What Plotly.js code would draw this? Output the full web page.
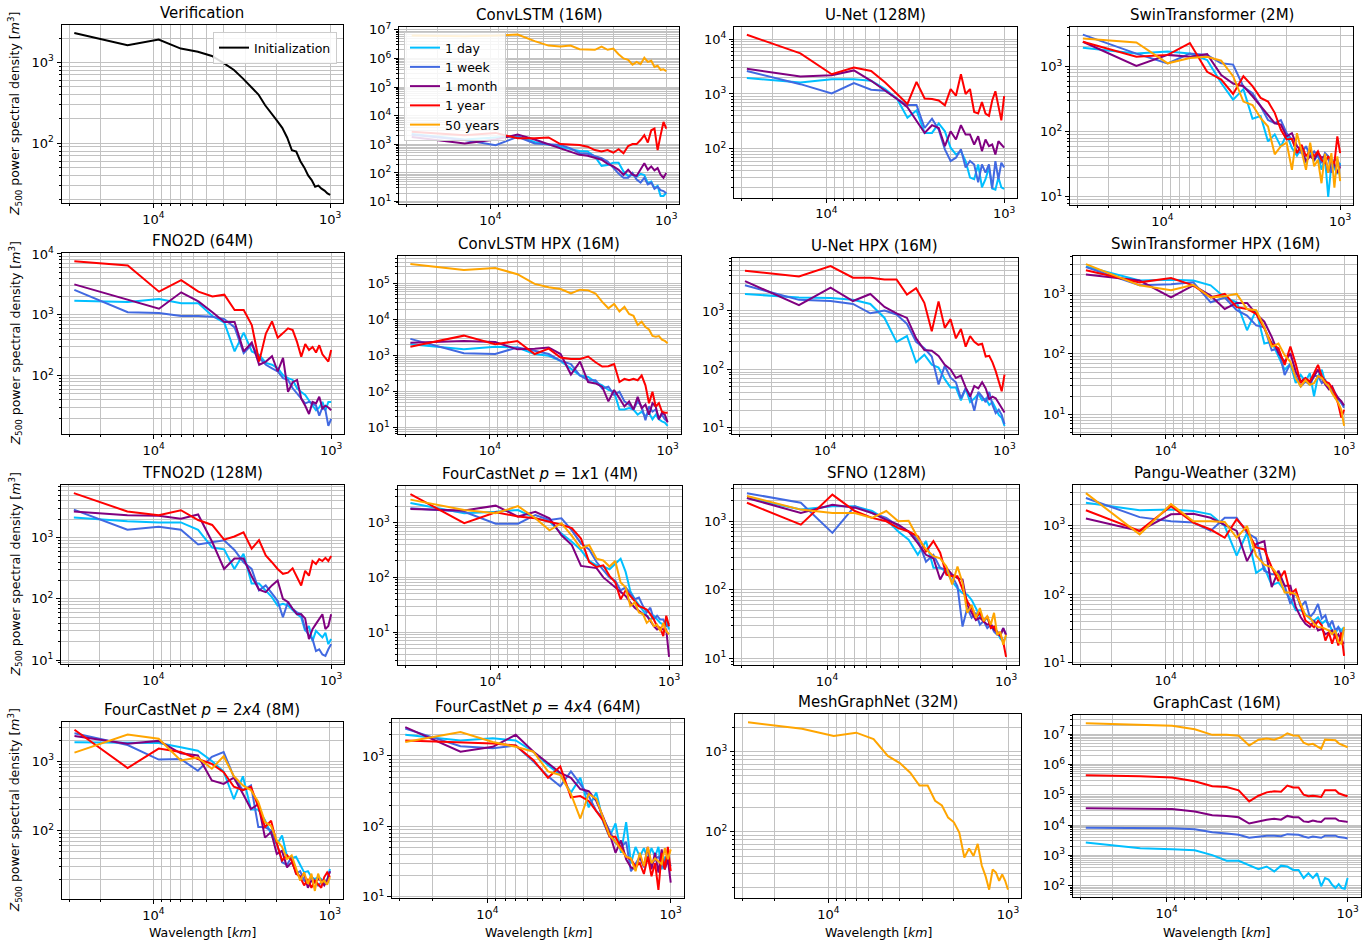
<!DOCTYPE html>
<html>
<head>
<meta charset="utf-8">
<script src="https://cdn.plot.ly/plotly-3.0.1.min.js"></script>
<style>html,body{margin:0;padding:0;background:#fff;}#chart{width:1371px;height:946px;}</style>
</head>
<body>
<div id="chart"></div>
<script>
// ---------------- DATA ----------------
const wavelength_km = [28000, 14000, 9333, 7000, 5600, 4667, 4000, 3500, 3111, 2800, 2545, 2333, 2154, 2000, 1867, 1750, 1647, 1556, 1474, 1400, 1333, 1273, 1217, 1167, 1120, 1077, 1037, 1000];
const seriesNames = ['1 day', '1 week', '1 month', '1 year', '50 years'];
const panelTitles = ['Verification', 'ConvLSTM (16M)', 'U-Net (128M)', 'SwinTransformer (2M)',
  'FNO2D (64M)', 'ConvLSTM HPX (16M)', 'U-Net HPX (16M)', 'SwinTransformer HPX (16M)',
  'TFNO2D (128M)', 'FourCastNet <i>p</i> = 1<i>x</i>1 (4M)', 'SFNO (128M)', 'Pangu-Weather (32M)',
  'FourCastNet <i>p</i> = 2<i>x</i>4 (8M)', 'FourCastNet <i>p</i> = 4<i>x</i>4 (64M)', 'MeshGraphNet (32M)', 'GraphCast (16M)'];
const xTickVals = [1000, 10000];
const xTickText = ['10<sup>3</sup>', '10<sup>4</sup>'];

const verification_init = [2300, 1630, 1910, 1480, 1350, 1200, 980, 805, 630, 500, 400, 295, 238, 190, 155, 117, 82, 79, 60, 50, 40, 35, 29, 30, 27.5, 26, 24, 23];

const convlstm_1day = [2290, 1480, 1740, 1910, 1200, 1000, 830, 680, 590, 560, 370, 178, 191, 229, 229, 112, 79, 85, 74, 93, 85, 44, 50, 29.5, 35.5, 15.8, 15.8, 20.4];
const convlstm_1week = [2140, 1410, 930, 1820, 1070, 1020, 955, 720, 490, 470, 400, 330, 250, 148, 95, 68, 68, 100, 59, 46, 68, 40, 46, 28, 33, 25, 23.4, 19.5];
const convlstm_1month = [1820, 1070, 1480, 2190, 1480, 1000, 720, 560, 430, 400, 330, 290, 209, 170, 129, 87, 129, 87, 79, 129, 219, 129, 170, 123, 148, 87, 68, 100];
const convlstm_1year = [2750, 2090, 2510, 1620, 1620, 1740, 1020, 955, 955, 830, 630, 560, 630, 510, 680, 490, 870, 1020, 1020, 1410, 2090, 1150, 3090, 3550, 630, 2090, 6030, 3550];
const convlstm_50years = [6.3e6, 6.0e6, 6.3e6, 6.8e6, 4.0e6, 2.8e6, 2.6e6, 2.8e6, 2.1e6, 2.1e6, 2.0e6, 2.6e6, 2.0e6, 2.2e6, 1.4e6, 1.0e6, 8.9e5, 6.0e5, 7.6e5, 6.3e5, 1.05e6, 7.6e5, 8.3e5, 5.0e5, 5.6e5, 4.0e5, 4.2e5, 3.55e5];

const unet_1day = [1950, 1620, 1860, 1860, 1740, 1230, 810, 370, 500, 195, 195, 290, 209, 105, 79, 91, 60, 30, 28, 52, 20, 28, 46, 19, 18, 30, 20, 18.6];
const unet_1week = [2630, 1510, 1020, 1580, 1200, 1150, 810, 630, 630, 240, 355, 224, 98, 60, 69, 98, 46, 60, 52, 24.5, 52, 37, 52, 19, 60, 28, 56, 46];
const unet_1month = [2880, 2090, 2190, 2690, 1740, 1150, 810, 575, 330, 195, 270, 240, 112, 209, 148, 270, 182, 182, 120, 170, 91, 148, 112, 120, 79, 138, 120, 105];
const unet_1year = [12000, 5500, 2290, 3020, 2630, 1620, 1000, 660, 1660, 830, 810, 760, 620, 1230, 930, 2290, 1000, 1230, 470, 440, 710, 440, 400, 760, 1120, 560, 330, 910];

const swin_1day = [1950, 1580, 1700, 1580, 1260, 560, 310, 450, 158, 174, 71, 91, 59, 91, 56, 43, 56, 33, 50, 35.5, 45, 26, 40, 10, 32, 28, 22.4, 33];
const swin_1week = [3090, 1580, 1120, 1580, 1510, 1120, 1070, 490, 390, 245, 151, 135, 151, 95, 76, 50, 47, 60, 42, 50, 42, 33, 47, 42, 23.4, 37, 37, 29.5];
const swin_1month = [2400, 1020, 1510, 1410, 1550, 740, 550, 500, 350, 245, 182, 135, 129, 85, 95, 60, 50, 35.5, 42, 37, 47, 40, 42, 23.4, 37, 32, 23.4, 29.5];
const swin_1year = [2400, 1410, 1510, 2290, 830, 630, 380, 710, 500, 330, 290, 195, 107, 76, 78, 47, 63, 42, 52, 42, 50, 37, 33, 42, 35.5, 33, 85, 47];
const swin_50years = [2690, 2340, 1120, 1350, 1410, 1230, 710, 290, 257, 162, 120, 45, 60, 68, 26, 95, 50, 26, 68, 29.5, 37, 16.2, 46, 23.4, 47, 13.8, 42, 17.4];

const fno_1day = [1700, 1620, 1820, 1550, 1550, 955, 740, 250, 510, 250, 219, 162, 151, 132, 102, 91, 85, 62, 54, 48, 39, 32, 27, 30, 37, 27, 37, 37];
const fno_1week = [2570, 1100, 1070, 955, 955, 930, 850, 620, 234, 324, 195, 151, 132, 117, 91, 85, 62, 51, 42, 35, 37, 35, 32, 22, 30, 27, 15, 19.5];
const fno_1month = [3160, 1740, 1260, 2340, 1660, 1100, 760, 760, 250, 350, 151, 170, 209, 117, 195, 54, 78, 85, 42, 32, 23.4, 37, 35, 45, 29, 32, 30, 27];
const fno_1year = [7590, 6460, 2400, 3720, 2400, 2000, 2140, 1200, 1200, 680, 170, 490, 780, 420, 500, 600, 560, 355, 204, 330, 263, 295, 240, 316, 224, 191, 170, 263];

const convhpx_1day = [2090, 1510, 1780, 1700, 1120, 1000, 720, 440, 282, 257, 186, 151, 112, 100, 32, 32, 35, 32, 23, 28, 21, 26, 17, 23, 17, 15, 13.8, 11.2];
const convhpx_1week = [2950, 1170, 1120, 1700, 1380, 1120, 720, 590, 282, 209, 209, 123, 138, 81, 100, 54, 44, 32, 54, 39, 16, 39, 28, 32, 18.6, 23, 17, 15];
const convhpx_1month = [2290, 2570, 2400, 1510, 1580, 1700, 1120, 302, 690, 186, 170, 138, 54, 112, 66, 39, 54, 32, 72, 35, 44, 23, 48, 39, 17, 26, 23, 14];
const convhpx_1year = [1780, 3630, 2090, 2570, 1120, 1580, 890, 810, 810, 955, 660, 500, 510, 590, 186, 229, 209, 229, 209, 282, 151, 48, 100, 39, 48, 28, 26, 26];
const convhpx_50years = [3.55e5, 2.45e5, 2.75e5, 1.86e5, 1.0e5, 8.1e4, 7.2e4, 5.4e4, 6.9e4, 6.6e4, 5.4e4, 3.16e4, 2.09e4, 2.75e4, 1.7e4, 2.29e4, 1.45e4, 1.29e4, 7.2e3, 8.9e3, 6.3e3, 5.4e3, 3.55e3, 3.4e3, 3.55e3, 2.8e3, 2.6e3, 2.24e3];

const unethpx_1day = [1950, 1700, 1660, 1550, 1320, 759, 295, 372, 132, 178, 120, 107, 68, 49, 49, 29.5, 47, 27.5, 31.6, 38, 29.5, 31.6, 24.5, 27.5, 21.4, 16.6, 14.8, 10.7];
const unethpx_1week = [2750, 1550, 1480, 1320, 912, 1020, 871, 603, 295, 229, 166, 55, 115, 72, 60, 32, 47, 36, 19.5, 41, 34, 27.5, 41, 24.5, 17.8, 20.4, 16.6, 11.5];
const unethpx_1month = [3240, 1260, 2510, 1480, 1950, 1170, 912, 759, 339, 214, 209, 170, 120, 100, 71, 78, 49, 34, 52, 47, 60, 47, 31, 34, 32, 26, 21, 18.2];
const unethpx_1year = [4900, 3890, 5890, 3720, 3720, 3470, 3470, 1910, 2450, 1380, 447, 1450, 513, 724, 339, 490, 245, 372, 295, 263, 275, 166, 170, 132, 93, 60, 42, 81];

const swinhpx_1day = [2750, 1620, 1660, 1620, 1350, 851, 708, 245, 525, 148, 158, 89, 55, 69, 33, 45, 35, 48, 20, 43, 55, 33, 27.5, 26, 18.6, 17.8, 15.5, 13.8];
const swinhpx_1week = [2690, 1350, 1410, 1510, 708, 851, 525, 427, 295, 275, 115, 123, 45, 69, 43, 29, 35, 31, 43, 43, 33, 37, 27.5, 24, 20, 18.6, 15.5, 12.9];
const swinhpx_1month = [2040, 1620, 851, 1350, 912, 550, 692, 692, 457, 339, 191, 102, 74, 102, 51, 35, 40, 33, 43, 55, 40, 31, 26, 29, 22.4, 18.6, 16.6, 14.1];
const swinhpx_1year = [2400, 1510, 1780, 1350, 851, 977, 589, 550, 457, 263, 148, 123, 66, 132, 69, 33, 40, 35, 48, 66, 43, 35, 33, 27.5, 21.4, 14.5, 8.9, 12];
const swinhpx_50years = [3020, 1350, 1120, 1380, 851, 891, 977, 550, 525, 275, 132, 148, 95, 74, 40, 29, 37, 31, 33, 43, 40, 33, 29, 22.4, 18.6, 15.5, 12, 6.5];

const tfno_1day = [2140, 1860, 1780, 1780, 1350, 692, 646, 309, 550, 178, 178, 138, 107, 78, 83, 78, 65, 56, 50, 30, 36, 20.4, 30, 26, 23.4, 28, 18.2, 22];
const tfno_1week = [2880, 1350, 1510, 1350, 776, 851, 912, 631, 398, 309, 138, 166, 120, 93, 50, 89, 69, 60, 56, 32, 25, 22, 14, 15, 12.3, 11.7, 15, 18.2];
const tfno_1month = [2690, 2340, 2290, 2040, 2400, 851, 309, 457, 457, 234, 141, 129, 166, 200, 100, 89, 69, 56, 56, 48, 22, 32, 39, 47, 56, 32, 36, 56];
const tfno_1year = [5370, 2690, 2340, 2820, 1950, 1620, 933, 1050, 1230, 661, 912, 513, 398, 309, 257, 269, 316, 224, 166, 288, 240, 417, 372, 447, 417, 468, 417, 501];

const fcn11_1day = [2290, 1480, 1580, 1700, 1200, 1050, 631, 447, 316, 200, 166, 158, 141, 178, 219, 126, 56, 40, 32, 25, 20, 17, 20, 17, 14.8, 13.8, 15.8, 11.2];
const fcn11_1week = [1820, 1580, 955, 955, 1380, 1120, 1200, 724, 417, 324, 191, 135, 100, 87, 58, 66, 50, 40, 43, 30, 23, 28, 17, 20, 17, 17, 12.9, 14.8];
const fcn11_1month = [1780, 1660, 2040, 1290, 1580, 1200, 589, 389, 162, 155, 148, 100, 81, 66, 54, 46, 35, 28, 24.5, 21.4, 20, 15.8, 12.9, 11.2, 12, 11.2, 11.2, 3.55];
const fcn11_1year = [3310, 977, 1550, 1290, 1200, 1050, 912, 794, 513, 191, 155, 166, 107, 81, 40, 58, 46, 37, 30, 28, 26, 21.4, 17, 12.9, 12, 8.5, 20, 12.9];
const fcn11_50years = [2630, 1700, 1480, 2000, 1200, 724, 977, 575, 339, 389, 219, 204, 158, 200, 81, 66, 30, 35, 23, 21.4, 14.8, 17, 12.9, 13.8, 10.5, 14.8, 10.5, 9.1];

const sfno_1day = [2190, 1480, 1660, 1660, 1410, 1050, 708, 537, 324, 513, 209, 209, 186, 132, 105, 89, 85, 71, 54, 41, 35, 39, 29, 26, 24.5, 19.5, 17.4, 21];
const sfno_1week = [2570, 1860, 676, 1660, 1320, 1120, 851, 708, 537, 257, 324, 209, 195, 158, 112, 29, 54, 39, 46, 31, 35, 27.5, 31, 24.5, 22, 22, 27.5, 22];
const sfno_1month = [2190, 1320, 1740, 1580, 1320, 1050, 891, 708, 479, 324, 288, 141, 209, 166, 148, 141, 60, 46, 36, 39, 35, 31, 32, 26, 24.5, 21, 27.5, 22];
const sfno_1year = [1860, 891, 2450, 1410, 1120, 1000, 794, 708, 603, 363, 513, 347, 166, 158, 158, 105, 68, 54, 39, 46, 35, 41, 27.5, 29, 23.4, 22, 17.4, 10.5];
const sfno_50years = [2340, 1480, 1320, 1320, 1120, 1410, 1000, 1020, 575, 389, 309, 288, 219, 120, 219, 126, 46, 60, 39, 54, 35, 41, 31, 46, 22, 24.5, 15.8, 22];

const pangu_1day = [2140, 1660, 1700, 1620, 1450, 977, 363, 776, 204, 245, 135, 148, 112, 85, 58, 58, 51, 44, 41, 46, 37, 41, 37, 29.5, 26, 33, 29.5, 33];
const pangu_1week = [2510, 1320, 1150, 1100, 832, 1290, 1290, 776, 646, 219, 195, 195, 132, 72, 105, 65, 79, 46, 54, 72, 44, 49, 33, 41, 29.5, 33, 26, 31];
const pangu_1month = [1260, 832, 1450, 1480, 1290, 1020, 832, 302, 537, 589, 126, 219, 132, 132, 65, 46, 37, 33, 41, 29.5, 31, 26, 27.5, 29.5, 23.4, 26, 21, 19];
const pangu_1year = [1660, 832, 1910, 1100, 871, 661, 1230, 832, 479, 447, 245, 155, 219, 100, 117, 65, 41, 37, 33, 41, 35, 21, 27.5, 19, 26, 17.8, 27.5, 12.6];
const pangu_50years = [2950, 741, 2040, 1150, 1150, 1120, 661, 977, 363, 269, 245, 186, 105, 105, 100, 72, 49, 46, 37, 33, 33, 31.6, 29.5, 26, 29.5, 20, 19, 33];

const fcn24_1day = [1860, 1820, 1820, 1580, 1410, 1000, 708, 282, 603, 200, 200, 141, 89, 63, 85, 42, 40, 42, 32, 25, 26, 21.4, 20, 21.4, 20, 17.8, 19, 28];
const fcn24_1week = [2510, 1700, 1050, 1070, 724, 1150, 1350, 589, 380, 447, 112, 112, 100, 65, 35, 32, 42, 24, 26, 19, 17.8, 21.4, 19, 16.2, 17.8, 19, 19, 26];
const fcn24_1month = [2290, 1780, 1950, 1290, 1200, 525, 468, 575, 339, 204, 240, 79, 95, 46, 51, 29.5, 35, 26, 21.4, 24, 15, 19, 17.8, 20, 19, 16.2, 19, 26];
const fcn24_1year = [2820, 794, 1510, 1350, 1070, 912, 692, 427, 380, 427, 219, 112, 138, 65, 37, 44, 37, 24, 21.4, 16.2, 20, 15, 19, 17, 15, 21.4, 25, 21.4];
const fcn24_50years = [1320, 2400, 2090, 1020, 1120, 776, 1170, 603, 447, 380, 257, 132, 117, 72, 58, 39, 44, 29.5, 19, 25, 17, 24, 13.5, 24, 17.8, 19, 16.6, 21.4];

const fcn44_1day = [2000, 1660, 1780, 1660, 1150, 741, 537, 302, 490, 186, 302, 115, 71, 110, 42, 115, 30, 51, 37, 49, 34, 49, 37, 51, 24.5, 37, 30, 30];
const fcn44_1week = [2450, 1380, 1290, 1410, 832, 513, 372, 603, 398, 269, 166, 129, 87, 58, 51, 60, 23, 30, 37, 26, 37, 29, 34, 37, 29, 24.5, 37, 27];
const fcn44_1month = [2570, 1150, 1350, 2000, 1150, 794, 575, 490, 339, 316, 229, 135, 79, 42, 63, 34, 26, 24.5, 37, 27, 51, 24.5, 42, 22, 47, 24.5, 34, 15.8];
const fcn44_1year = [1660, 1580, 1510, 1410, 871, 490, 708, 257, 269, 229, 166, 120, 71, 71, 49, 37, 34, 27, 30, 21, 37, 19.5, 30, 12.5, 42, 24.5, 51, 23];
const fcn44_50years = [1580, 2190, 1580, 1350, 1150, 603, 537, 288, 129, 288, 245, 135, 74, 60, 47, 37, 35, 23, 42, 27, 51, 30, 35, 32, 29, 49, 34, 47];

const mesh_50years = [2340, 1950, 1580, 1740, 1450, 891, 724, 550, 380, 380, 245, 214, 151, 132, 98, 48, 62, 50, 71, 38, 28, 19, 34, 31, 24.5, 29.5, 24.5, 19];

const graphcast_1day = [2630, 1700, 1580, 1480, 1020, 660, 660, 479, 347, 427, 295, 457, 427, 331, 331, 178, 257, 178, 257, 95, 178, 158, 107, 83, 112, 83, 79, 178];
const graphcast_1week = [8100, 7900, 7800, 7200, 5750, 5250, 4800, 3800, 4200, 4450, 4450, 4250, 5000, 4800, 4800, 4200, 3800, 4200, 4000, 3800, 4450, 4450, 4250, 4450, 4000, 4000, 3800, 3600];
const graphcast_1month = [3.6e4, 3.55e4, 3.4e4, 2.8e4, 2.1e4, 2.0e4, 1.8e4, 1.12e4, 1.32e4, 1.5e4, 1.6e4, 1.5e4, 2.0e4, 1.8e4, 1.8e4, 1.32e4, 1.26e4, 1.4e4, 1.32e4, 1.26e4, 1.66e4, 1.66e4, 1.6e4, 1.66e4, 1.4e4, 1.32e4, 1.32e4, 1.26e4];
const graphcast_1year = [4.4e5, 4.1e5, 3.7e5, 2.8e5, 1.9e5, 1.8e5, 1.4e5, 6.0e4, 9.3e4, 1.2e5, 1.3e5, 1.26e5, 2.0e5, 1.74e5, 1.74e5, 1.0e5, 8.9e4, 9.3e4, 8.9e4, 8.5e4, 1.4e5, 1.4e5, 1.35e5, 1.4e5, 1.12e5, 1.0e5, 9.5e4, 8.9e4];
const graphcast_50years = [2.29e7, 2.04e7, 1.91e7, 1.45e7, 9.5e6, 9.5e6, 8.9e6, 4.2e6, 6.6e6, 7.2e6, 6.6e6, 7.9e6, 1.07e7, 9.1e6, 8.9e6, 5.2e6, 4.5e6, 4.8e6, 4.0e6, 3.3e6, 6.6e6, 6.6e6, 6.6e6, 6.3e6, 5.0e6, 4.5e6, 4.0e6, 3.7e6];

// ---------------- STYLE / LAYOUT ----------------
const W = 1371, H = 946;
const FONT = 'DejaVu Sans, Liberation Sans, sans-serif';
const COL = {'1 day': '#00bfff', '1 week': '#4169e1', '1 month': '#800080', '1 year': '#ff0000', '50 years': '#ffa500', 'Initialization': '#000000'};
// frames in pixels: [left, right, top, bottom]
const frames = [
  [61.5, 343, 25, 203], [399, 679, 26.5, 204], [734, 1017, 27, 197.5], [1070, 1353, 26.5, 205],
  [61.5, 344, 253, 434], [397.5, 680.5, 256, 434], [732, 1017.5, 258, 434], [1073, 1357, 256, 434],
  [61, 344, 485, 664], [397.5, 682, 486, 665], [734, 1019, 485, 665], [1073, 1357, 485, 664],
  [61.7, 342.7, 721.7, 899], [392, 684, 719, 898], [735, 1021, 714, 898], [1072.7, 1360.7, 715, 897]
];

const five = (a, b, c, d, e) => [[seriesNames[0], a], [seriesNames[1], b], [seriesNames[2], c], [seriesNames[3], d], [seriesNames[4], e]];
const four = (a, b, c, d) => [[seriesNames[0], a], [seriesNames[1], b], [seriesNames[2], c], [seriesNames[3], d]];
const panelSeries = [
  [['Initialization', verification_init]],
  five(convlstm_1day, convlstm_1week, convlstm_1month, convlstm_1year, convlstm_50years),
  four(unet_1day, unet_1week, unet_1month, unet_1year),
  five(swin_1day, swin_1week, swin_1month, swin_1year, swin_50years),
  four(fno_1day, fno_1week, fno_1month, fno_1year),
  five(convhpx_1day, convhpx_1week, convhpx_1month, convhpx_1year, convhpx_50years),
  four(unethpx_1day, unethpx_1week, unethpx_1month, unethpx_1year),
  five(swinhpx_1day, swinhpx_1week, swinhpx_1month, swinhpx_1year, swinhpx_50years),
  four(tfno_1day, tfno_1week, tfno_1month, tfno_1year),
  five(fcn11_1day, fcn11_1week, fcn11_1month, fcn11_1year, fcn11_50years),
  five(sfno_1day, sfno_1week, sfno_1month, sfno_1year, sfno_50years),
  five(pangu_1day, pangu_1week, pangu_1month, pangu_1year, pangu_50years),
  five(fcn24_1day, fcn24_1week, fcn24_1month, fcn24_1year, fcn24_50years),
  five(fcn44_1day, fcn44_1week, fcn44_1month, fcn44_1year, fcn44_50years),
  [['50 years', mesh_50years]],
  five(graphcast_1day, graphcast_1week, graphcast_1month, graphcast_1year, graphcast_50years)
];

const GRID = '#c2c2c2';
const TICKFONT = {family: FONT, size: 13, color: '#000'};
const traces = [];
const layout = {
  width: W, height: H, margin: {l: 0, r: 0, t: 0, b: 0},
  paper_bgcolor: '#fff', plot_bgcolor: '#fff',
  font: {family: FONT, size: 12.5, color: '#000'},
  showlegend: true,
  annotations: [],
  legend: {x: 337 / W, y: 1 - 32 / H, xanchor: 'right', yanchor: 'top', bgcolor: 'rgba(255,255,255,0.85)', bordercolor: '#cccccc', borderwidth: 1, font: {family: FONT, size: 12.5, color: '#000'}, tracegroupgap: 0},
  legend2: {x: 404 / W, y: 1 - 32 / H, xanchor: 'left', yanchor: 'top', bgcolor: 'rgba(255,255,255,0.85)', bordercolor: '#cccccc', borderwidth: 1, font: {family: FONT, size: 12.5, color: '#000'}, tracegroupgap: 0}
};

const xLogMin = Math.log10(Math.min(...wavelength_km)), xLogMax = Math.log10(Math.max(...wavelength_km));
const xm = 0.05 * (xLogMax - xLogMin);
const xRange = [xLogMax + xm, xLogMin - xm];
const xMinor = [2000, 3000, 4000, 5000, 6000, 7000, 8000, 9000, 20000, 30000];

panelSeries.forEach((series, i) => {
  const n = i + 1;
  const xa = 'x' + (n === 1 ? '' : n), ya = 'y' + (n === 1 ? '' : n);
  let lo = Infinity, hi = -Infinity;
  series.forEach(([name, vals]) => {
    vals.forEach(v => { const l = Math.log10(v); if (l < lo) lo = l; if (l > hi) hi = l; });
    const tr = {x: wavelength_km, y: vals, name: name, type: 'scatter', mode: 'lines', xaxis: xa, yaxis: ya,
      line: {color: COL[name], width: 2}, hoverinfo: 'skip', showlegend: false};
    if (n === 1) { tr.showlegend = true; tr.legend = 'legend'; }
    if (n === 2) { tr.showlegend = true; tr.legend = 'legend2'; }
    traces.push(tr);
  });
  const ym = 0.05 * (hi - lo);
  const yRange = [lo - ym, hi + ym];
  const yMaj = [], yMajT = [], yMin = [];
  for (let d = Math.floor(yRange[0]); d <= Math.ceil(yRange[1]); d++) {
    if (d >= yRange[0] && d <= yRange[1]) { yMaj.push(Math.pow(10, d)); yMajT.push('10<sup>' + d + '</sup>'); }
    for (let m = 2; m <= 9; m++) {
      const lv = d + Math.log10(m);
      if (lv >= yRange[0] && lv <= yRange[1]) yMin.push(m * Math.pow(10, d));
    }
  }
  const f = frames[i];
  const common = {type: 'log', autorange: false, showline: true, linecolor: '#000', linewidth: 1, mirror: true,
    ticks: 'outside', ticklen: 4, tickwidth: 1, tickcolor: '#000', showgrid: true, gridcolor: GRID, gridwidth: 1,
    zeroline: false, tickfont: TICKFONT, tickmode: 'array', fixedrange: true};
  layout['xaxis' + (n === 1 ? '' : n)] = Object.assign({}, common, {
    domain: [f[0] / W, f[1] / W], anchor: ya, range: xRange, tickvals: xTickVals, ticktext: xTickText,
    minor: {tickmode: 'array', tickvals: xMinor, ticks: 'outside', ticklen: 2, tickcolor: '#000', showgrid: true, gridcolor: GRID, gridwidth: 1}
  });
  layout['yaxis' + (n === 1 ? '' : n)] = Object.assign({}, common, {
    domain: [1 - f[3] / H, 1 - f[2] / H], anchor: xa, range: yRange, tickvals: yMaj, ticktext: yMajT,
    minor: {tickmode: 'array', tickvals: yMin, ticks: 'outside', ticklen: 2, tickcolor: '#000', showgrid: true, gridcolor: GRID, gridwidth: 1}
  });
  // subplot title
  layout.annotations.push({text: panelTitles[i], xref: 'paper', yref: 'paper', x: (f[0] + f[1]) / 2 / W, y: 1 - f[2] / H,
    xanchor: 'center', yanchor: 'bottom', yshift: 1, showarrow: false, font: {family: FONT, size: 15, color: '#000'}});
  if (i % 4 === 0) {
    layout.annotations.push({text: '<i>Z</i><sub>500</sub> power spectral density [<i>m</i><sup>3</sup>]', xref: 'paper', yref: 'paper',
      x: 15 / W, y: 1 - (f[2] + f[3]) / 2 / H, textangle: -90, xanchor: 'center', yanchor: 'middle', showarrow: false,
      font: {family: FONT, size: 12.5, color: '#000'}});
  }
  if (i >= 12) {
    layout.annotations.push({text: 'Wavelength [<i>km</i>]', xref: 'paper', yref: 'paper', x: (f[0] + f[1]) / 2 / W, y: 1 - 932 / H,
      xanchor: 'center', yanchor: 'middle', showarrow: false, font: {family: FONT, size: 12.5, color: '#000'}});
  }
});

Plotly.newPlot('chart', traces, layout, {staticPlot: true, displayModeBar: false});
</script>
</body>
</html>
